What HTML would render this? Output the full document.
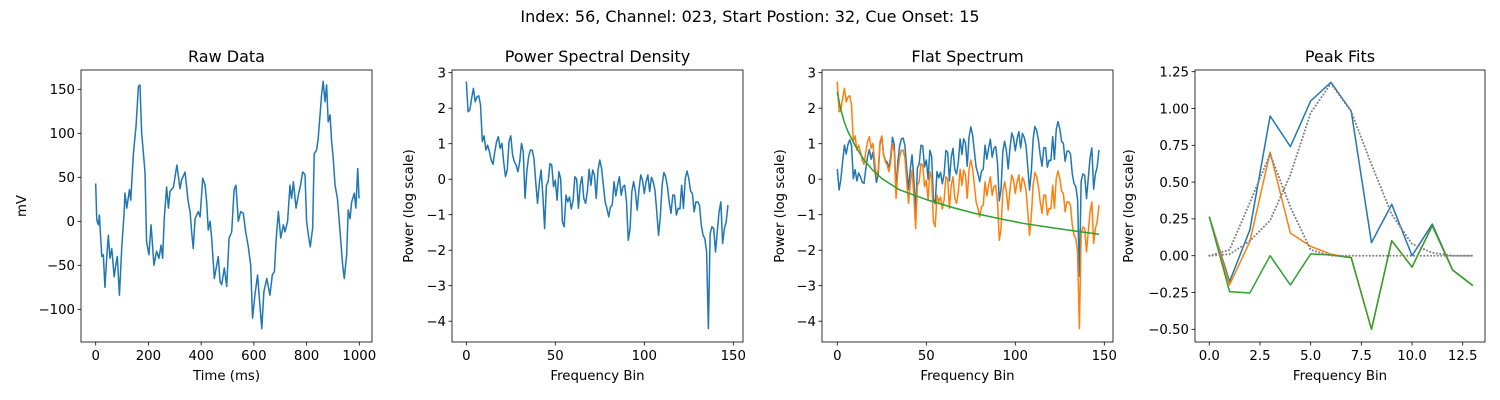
<!DOCTYPE html>
<html><head><meta charset="utf-8">
<style>
html,body{margin:0;padding:0;background:#fff;}
svg{display:block;font-family:"DejaVu Sans","Liberation Sans",sans-serif;}
</style></head>
<body>
<svg id="fig" width="1500" height="400" viewBox="0 0 1500 400" xmlns="http://www.w3.org/2000/svg">
<rect width="1500" height="400" fill="#fff"/>
<text x="750" y="22" font-size="16" text-anchor="middle" fill="#000">Index: 56, Channel: 023, Start Postion: 32, Cue Onset: 15</text>
</svg>
<script>
// ---- Raw data ----
const rawTime = [0,4,10,14,23,29,35,42,48,54,61,70,76,82,90,99,108,111,118,128,133,143,153,162,168,174,187,193,202,210,221,231,240,248,254,260,269,276,282,295,308,320,326,339,351,358,364,370,377,389,396,406,415,421,427,434,440,450,459,465,472,478,488,497,506,516,525,532,541,550,560,569,579,588,595,604,614,621,630,638,649,661,670,678,684,693,702,712,718,728,737,743,750,760,769,777,785,794,800,807,814,823,829,838,844,857,863,870,876,882,889,895,901,908,917,927,937,943,952,958,965,971,981,987,994,999];
const rawValues = [43,1.5,-4,7,-40,-38,-75,-40,-16,-42,-31,-63,-50,-40,-84,-29,11,32,15,36,24,77,108,153,155,102,56,-23,-38,-4,-50,-34,-42,-27,-42,3,39,15,34,39,64,37,47,56,22,11,-12,-31,3,11,5,49,41,22,-10,0,-19,-65,-50,-40,-69,-72,-53,-74,-19,-12,36,41,0,11,9,-12,-29,-50,-110,-84,-61,-88,-122,-80,-65,-84,-61,-57,-23,11,-19,-4,-12,0,41,26,45,15,30,41,56,53,0,-16,-29,-8,77,81,94,144,159,136,155,113,121,91,72,41,26,-12,-50,-65,-38,13,3,22,32,15,60,26];
const rawXTicks = [0,200,400,600,800,1000];
const rawYTicks = [-100,-50,0,50,100,150];

// ---- PSD (log power per frequency bin) ----
const psdValues = [2.75,1.90,1.95,2.28,2.56,2.18,2.32,2.35,2.09,1.06,1.22,0.82,0.96,0.77,0.54,0.42,0.77,1.06,1.20,0.87,1.01,0.49,0.07,0.26,1.06,1.22,0.68,0.49,0.40,0.21,0.49,1.01,0.77,-0.54,0.21,0.63,0.82,0.82,0.59,-0.07,-0.68,-0.12,0.26,-0.45,-1.39,-0.17,-0.07,0.44,0.40,-0.21,-0.03,-0.59,0.21,0.02,-1.20,-1.34,-0.45,-0.64,-0.50,-0.84,-0.59,0.07,0.00,-0.82,-0.17,0.07,-0.54,-0.68,-0.35,0.28,-0.17,0.26,0.12,-0.54,0.26,0.54,0.30,-0.17,-0.64,-0.82,-1.06,-0.78,-0.73,-0.07,-0.47,-0.17,0.07,-0.45,-0.21,-0.17,-0.64,-1.72,-1.39,-0.35,-0.07,-0.35,-0.87,-0.31,0.12,-0.03,-0.40,-0.07,0.12,-0.35,0.05,-0.07,-0.31,-0.92,-1.58,-1.06,-0.17,0.19,0.07,-0.21,-0.64,-0.96,-0.45,-0.45,-1.01,-0.82,-0.84,-0.17,-0.82,0.02,0.23,0.02,-0.34,-0.40,-0.92,-0.64,-0.64,-0.73,-1.29,-1.58,-1.67,-2.05,-4.21,-1.53,-1.34,-1.39,-2.05,-1.48,-0.92,-0.64,-1.81,-1.39,-1.20,-0.73];
const freqXTicks = [0,50,100,150];
const powerYTicks = [-4,-3,-2,-1,0,1,2,3];

// ---- Aperiodic fit (green) sampled at bins ----
const apBins = [0,2,4,6,10,15,20,25,35,51,65,77,90,105,125,147];
const apValues = [2.46,1.95,1.6,1.34,0.95,0.54,0.25,0.02,-0.3,-0.59,-0.8,-0.96,-1.1,-1.25,-1.4,-1.55];

// ---- Peak fits ----
const peakBins = [0,1,2,3,4,5,6,7,8,9,10,11,12,13];
const peakFlat = [0.265,-0.176,0.175,0.949,0.741,1.051,1.178,0.983,0.089,0.349,0.0,0.215,-0.097,-0.203];
const peakResid1 = [0.265,-0.198,0.096,0.703,0.153,0.064,0.01,-0.013,-0.5,0.102,-0.077,0.204,-0.097,-0.203];
const peakResid2 = [0.265,-0.244,-0.253,0.0,-0.199,0.012,0.005,-0.013,-0.5,0.102,-0.077,0.204,-0.097,-0.203];
const gauss1 = [0,0.04,0.36,0.69,0.33,0.04,0.0,0,0,0,0,0,0,0];
const gauss2 = [0,0.01,0.1,0.24,0.55,0.97,1.17,0.98,0.62,0.28,0.08,0.02,0,0];
const peakXTicks = [0,2.5,5,7.5,10,12.5];
const peakYTicks = [-0.5,-0.25,0,0.25,0.5,0.75,1,1.25];

const NS = "http://www.w3.org/2000/svg";
const svg = document.getElementById('fig');
function mk(tag, attrs, parent){
  const e = document.createElementNS(NS, tag);
  for (const k in attrs) e.setAttribute(k, attrs[k]);
  (parent||svg).appendChild(e);
  return e;
}
function lin(d0,d1,r0,r1){ return v => r0 + (v-d0)*(r1-r0)/(d1-d0); }
const TS = 13.3;

function axesFrame(name, left, top, w, h, xs, ys, xTicks, yTicks, xFmt, yFmt, title, xlabel, ylabel, ylabelX){
  const g = mk('g', {});
  
  
  xTicks.forEach(t => {
    const x = xs(t);
    const tk = mk('line', {x1:x, x2:x, y1:top+h, y2:top+h+3.5, stroke:'#000', 'stroke-width':0.8}, g);
    
    
    const lb = mk('text', {x:x, y:top+h+18, 'font-size':TS, 'text-anchor':'middle', fill:'#000'}, g);
    
    
    lb.textContent = xFmt(t);
  });
  yTicks.forEach(t => {
    const y = ys(t);
    const tk = mk('line', {x1:left-3.5, x2:left, y1:y, y2:y, stroke:'#000', 'stroke-width':0.8}, g);
    
    
    const lb = mk('text', {x:left-6, y:y+4.8, 'font-size':TS, 'text-anchor':'end', fill:'#000'}, g);
    
    
    lb.textContent = yFmt(t);
  });
  const tt = mk('text', {x:left+w/2, y:top-8, 'font-size':16, 'text-anchor':'middle', fill:'#000'}, g);
  
  
  tt.textContent = title;
  const xl = mk('text', {x:left+w/2, y:top+h+38, 'font-size':TS, 'text-anchor':'middle', fill:'#000'}, g);
  
  
  xl.textContent = xlabel;
  const yl = mk('text', {x:0, y:0, 'font-size':TS, 'text-anchor':'middle', fill:'#000', transform:`translate(${ylabelX},${top+h/2}) rotate(-90)`}, g);
  
  
  yl.textContent = ylabel;
  return g;
}
function border(g, left, top, w, h){
  const r = mk('rect', {x:left, y:top, width:w, height:h, fill:'none', stroke:'#000', 'stroke-width':0.8}, g);
  
  
}
function line(g, xs, ys, X, Y, color, name, dash){
  const d = X.map((x,i) => (i?'L':'M') + xs(x).toFixed(2) + ',' + ys(Y[i]).toFixed(2)).join('');
  const attrs = {d:d, fill:'none', stroke:color, 'stroke-width':1.5, 'stroke-linejoin':'round'};
  if (dash) { attrs['stroke-dasharray'] = dash; attrs['stroke-linecap'] = 'round'; attrs['stroke-width'] = 2; }
  const p = mk('path', attrs, g);
  
  
  return p;
}
const intFmt = v => (v<0?'\u2212':'') + Math.abs(v);
const fix2 = v => (v<0?'\u2212':'') + Math.abs(v).toFixed(2);
const fix1 = v => (v<0?'\u2212':'') + Math.abs(v).toFixed(1);
const H = 272, TOP = 70, W = 291;
const indices = psdValues.map((_, i) => i);

// Panel 1
{
  const xs = lin(0,1000,95.7,359.3), ys = lin(150,-100,89.3,309.3);
  const g = axesFrame('raw-data-panel', 81, TOP, W, H, xs, ys, rawXTicks, rawYTicks, intFmt, intFmt, 'Raw Data', 'Time (ms)', 'mV', 26);
  line(g, xs, ys, rawTime, rawValues, '#1f77b4', 'raw-signal-line');
  border(g, 81, TOP, W, H);
}
// Panel 2
const ys2 = lin(3,-4,72.7,321.2);
{
  const xs = lin(0,150,466.3,733.3);
  const g = axesFrame('psd-panel', 452, TOP, W, H, xs, ys2, freqXTicks, powerYTicks, intFmt, intFmt, 'Power Spectral Density', 'Frequency Bin', 'Power (log scale)', 413);
  line(g, xs, ys2, indices, psdValues, '#1f77b4', 'psd-line');
  border(g, 452, TOP, W, H);
}
// Panel 3
{
  const xs = lin(0,150,837.3,1104.3);
  function apAt(b){
    for (let k=0;k<apBins.length-1;k++){
      if (b<=apBins[k+1]) return apValues[k] + (b-apBins[k])*(apValues[k+1]-apValues[k])/(apBins[k+1]-apBins[k]);
    }
    return apValues[apValues.length-1];
  }
  const flat = psdValues.map((v,i) => v - apAt(i));
  const g = axesFrame('flat-spectrum-panel', 822, TOP, W, H, xs, ys2, freqXTicks, powerYTicks, intFmt, intFmt, 'Flat Spectrum', 'Frequency Bin', 'Power (log scale)', 784);
  line(g, xs, ys2, indices, flat, '#1f77b4', 'flattened-spectrum-line');
  line(g, xs, ys2, indices, psdValues, '#ff7f0e', 'psd-line');
  line(g, xs, ys2, apBins, apValues, '#2ca02c', 'aperiodic-fit-line');
  border(g, 822, TOP, W, H);
}
// Panel 4
{
  const xs = lin(0,12.5,1209.3,1462.7), ys = lin(1.25,-0.5,71.7,329.3);
  const g = axesFrame('peak-fits-panel', 1195, TOP, 290, H, xs, ys, peakXTicks, peakYTicks, fix1, fix2, 'Peak Fits', 'Frequency Bin', 'Power (log scale)', 1133);
  line(g, xs, ys, peakBins, peakFlat, '#1f77b4', 'flat-spectrum-line');
  line(g, xs, ys, peakBins, peakResid1, '#ff7f0e', 'residual-after-peak1-line');
  line(g, xs, ys, peakBins, peakResid2, '#2ca02c', 'residual-after-peak2-line');
  line(g, xs, ys, peakBins, gauss1, '#808080', 'gaussian-fit-1', '0.1,3.3');
  line(g, xs, ys, peakBins, gauss2, '#808080', 'gaussian-fit-2', '0.1,3.3');
  border(g, 1195, TOP, 290, H);
}
</script>
</body></html>
